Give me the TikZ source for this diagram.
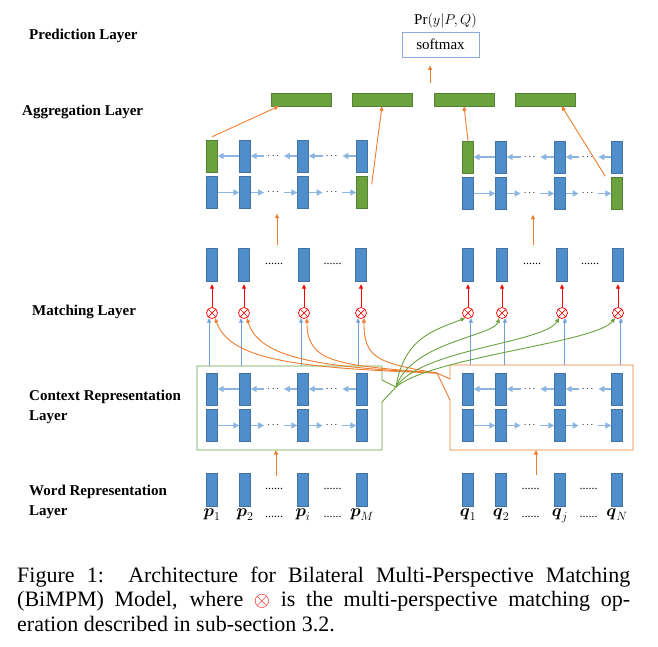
\documentclass[tikz,border=0pt]{standalone}
\usepackage{fontspec}
\setmainfont{Liberation Serif}
\usepackage{amsmath}
\usepackage{xcolor}
\usepackage{tikz}
\usetikzlibrary{positioning,calc,arrows.meta}

\definecolor{vecblue}{RGB}{80,141,203}
\definecolor{vecedge}{RGB}{66,114,166}
\definecolor{lstmblue}{RGB}{140,181,226}
\definecolor{linkblue}{RGB}{112,160,214}
\definecolor{agggreen}{RGB}{106,162,62}
\definecolor{ctxorange}{RGB}{237,125,49}
\definecolor{softblue}{RGB}{142,169,219}

\tikzset{
  vec/.style={rectangle, fill=vecblue, draw=vecedge, line width=0.4pt, minimum width=11pt, minimum height=33pt, inner sep=0pt},
  gvec/.style={vec, fill=agggreen, draw=agggreen!80!black},
  aggbar/.style={rectangle, fill=agggreen, draw=agggreen!80!black, line width=0.4pt, minimum width=60pt, minimum height=13pt, inner sep=0pt},
  mop/.style={circle, draw=red, line width=0.7pt, minimum size=11pt, inner sep=0pt,
    path picture={\draw[red, line width=0.7pt] (path picture bounding box.south west) -- (path picture bounding box.north east)
      (path picture bounding box.north west) -- (path picture bounding box.south east);}},
  lstm/.style={lstmblue, line width=1.8pt, -{Triangle[length=6pt,width=6pt]}},
  rowdots/.style={inner xsep=3pt, inner ysep=0pt, text=black!85!blue, font=\fontsize{10}{10}\selectfont\bfseries},
  wdots/.style={anchor=base, inner sep=1pt, font=\fontsize{12}{12}\selectfont},
  redarr/.style={red, line width=0.9pt, -{Triangle[length=4.5pt,width=4pt]}, shorten >=3pt},
  linkarr/.style={linkblue, line width=0.9pt, -{Triangle[length=4.5pt,width=4pt]}},
  orarr/.style={ctxorange, line width=0.9pt, -{Triangle[length=4.5pt,width=4pt]}},
  grarr/.style={agggreen, line width=0.9pt, -{Triangle[length=4.5pt,width=4pt]}},
  layername/.style={anchor=west, align=left, inner sep=0pt, font=\fontsize{15}{20}\selectfont\bfseries},
  wlabel/.style={inner sep=0pt, font=\fontsize{17}{17}\selectfont}
}

\begin{document}
\begin{tikzpicture}[x=1pt,y=-1pt]
\useasboundingbox (0,0) rectangle (658,646);

% Layer names
\node[layername] (lpred) at (29,36) {Prediction Layer};
\node[layername] (lagg) at (22,112) {Aggregation Layer};
\node[layername] (lmatch) at (32,312) {Matching Layer};
\node[layername] (lctx) at (29,407) {Context Representation\\Layer};
\node[layername] (lword) at (29,502) {Word Representation\\Layer};

% Prediction layer
\node[draw=softblue, line width=0.8pt, minimum width=77pt, minimum height=25pt, inner sep=0pt, font=\fontsize{15}{15}\selectfont] (soft) at (440.5,44.5) {softmax};
\node[above=3pt of soft, xshift=5pt, inner sep=0pt, font=\fontsize{15}{15}\selectfont] (prob) {$\Pr(y|P,Q)$};

% Aggregation layer
\foreach \i/\x in {1/301,2/382,3/464,4/545.5} \node[aggbar] (ag\i) at (\x,99.5) {};
\coordinate (pin) at (430,83);
\draw[orarr, shorten >=8pt] (pin) -- (pin |- soft.south);

% BiLSTM rows (context and aggregation)
\foreach \g/\ya/\yb/\xa/\xb/\xc/\xd in {cl/389/425.5/212/245/303/362, cr/389/425.5/468/501/560/617,
    al/156/192.5/212/245/303/362, ar/157/193.5/468/501/560/617} {
  \foreach \i/\x in {1/\xa,2/\xb,3/\xc,4/\xd} {
    \node[vec, minimum height=32pt] (\g t\i) at (\x,\ya) {};
    \node[vec, minimum height=32pt] (\g b\i) at (\x,\yb) {};
  }
  \draw[lstm] (\g t2) -- (\g t1);
  \draw[lstm] (\g b1) -- (\g b2);
  \foreach \a/\b in {2/3,3/4} {
    \node[rowdots] (\g td\a) at ($(\g t\a)!0.5!(\g t\b)$) {$\cdots$};
    \node[rowdots] (\g bd\a) at ($(\g b\a)!0.5!(\g b\b)$) {$\cdots$};
    \draw[lstm] (\g t\b) -- (\g td\a);
    \draw[lstm] (\g td\a) -- (\g t\a);
    \draw[lstm] (\g b\a) -- (\g bd\a);
    \draw[lstm] (\g bd\a) -- (\g b\b);
  }
}
\node[gvec, minimum height=32pt] (alt1) at (alt1) {};
\node[gvec, minimum height=32pt] (alb4) at (alb4) {};
\node[gvec, minimum height=32pt] (art1) at (art1) {};
\node[gvec, minimum height=32pt] (arb4) at (arb4) {};

\draw[orarr] ([yshift=3pt]alt1.north) -- ([xshift=8pt]ag1.south west);
\draw[orarr] ([xshift=4pt,yshift=-8pt]alb4.north east) -- (ag2.south);
\draw[orarr] (art1.north) -- (ag3.south);
\draw[orarr] ([xshift=-6pt,yshift=1pt]arb4.north west) -- ([xshift=-14pt]ag4.south east);

% Matching layer
\foreach \i/\x in {1/212,2/244,3/304,4/361} {
  \node[mop] (mp\i) at (\x,313) {};
  \node[vec] (vp\i) at (\x,264.5) {};
  \draw[redarr] (mp\i) -- (vp\i);
}
\foreach \i/\x in {1/468,2/502,3/562,4/618} {
  \node[mop] (mq\i) at (\x,313) {};
  \node[vec] (vq\i) at (\x,264.5) {};
  \draw[redarr] (mq\i) -- (vq\i);
}
\foreach \a/\b in {2/3,3/4} {
  \node[wdots] (vpd\a) at ($(vp\a)!0.5!(vp\b)$) {......};
  \node[wdots] (vqd\a) at ($(vq\a)!0.5!(vq\b)$) {......};
}
\coordinate (laggin) at (277,245);
\coordinate (raggin) at (533,245);
\draw[orarr, shorten >=5pt] (laggin) -- (laggin |- alb1.south);
\draw[orarr, shorten >=5pt] (raggin) -- (raggin |- arb1.south);

% Context boxes
\coordinate (ltop) at (197,366);
\coordinate (lbot) at (197,450);
\coordinate (rtop) at (450,365);
\coordinate (rbot) at (450,450);
\coordinate (gtip) at (396,387);
\coordinate (otip) at (437,373);
\draw[agggreen, line width=0.9pt] (ltop) -- (382,366) -- (382,380) -- (gtip) -- (382,402) -- (382,450) -- (lbot) -- cycle;
\draw[ctxorange, line width=0.9pt] (rtop) -- (633,365) -- (633,450) -- (rbot) -- (450,400) -- (otip) -- (450,379) -- cycle;

\foreach \i in {1,...,4} {
  \draw[linkarr] (mp\i.240 |- ltop) -- (mp\i.240);
  \draw[linkarr] (mq\i.-60 |- rtop) -- (mq\i.-60);
}

% Cross matching
\draw[orarr] (otip) .. controls +(-150,-5) and +(15,40) .. (mp1.-60);
\draw[orarr] (otip) .. controls +(-120,-6) and +(12,40) .. (mp2.-60);
\draw[orarr] (otip) .. controls +(-100,-8) and +(0,45) .. (mp3.-60);
\draw[orarr] (otip) .. controls +(-60,-10) and +(0,40) .. (mp4.-60);
\draw[grarr] (gtip) .. controls +(8,-50) and +(-30,12) .. (mq1.240);
\draw[grarr] (gtip) .. controls +(15,-45) and +(-5,18) .. (mq2.240);
\draw[grarr] (gtip) .. controls +(25,-38) and +(-15,25) .. (mq3.240);
\draw[grarr] (gtip) .. controls +(35,-30) and +(-20,25) .. (mq4.240);

% Word representation layer
\foreach \i/\x/\t in {1/212/1,2/245/2,3/303/i,4/362/M} {
  \node[vec] (wp\i) at (\x,489.5) {};
  \node[wlabel, below=2pt of wp\i] (lp\i) {$\boldsymbol{p}_{\t}$};
}
\foreach \i/\x/\t in {1/468/1,2/501/2,3/560/j,4/617/N} {
  \node[vec] (wq\i) at (\x,489.5) {};
  \node[wlabel, below=2pt of wq\i] (lq\i) {$\boldsymbol{q}_{\t}$};
}
\foreach \a/\b in {2/3,3/4} {
  \node[wdots] (wpd\a) at ($(wp\a)!0.5!(wp\b)$) {......};
  \node[wdots] (wqd\a) at ($(wq\a)!0.5!(wq\b)$) {......};
  \node[wdots] (lpd\a) at ($(wp\a)!0.5!(wp\b) + (0,28)$) {......};
  \node[wdots] (lqd\a) at ($(wq\a)!0.5!(wq\b) + (0,28)$) {......};
}
\coordinate (lctxin) at (276,476);
\coordinate (rctxin) at (536,475);
\draw[orarr] (lctxin) -- (lctxin |- lbot);
\draw[orarr] (rctxin) -- (rctxin |- rbot);

% Caption
\node[anchor=base west, text width=613pt, align=justify, inner sep=0pt, font=\fontsize{22}{24.5}\selectfont] (cap) at (17,582)
  {Figure 1:\ \ Architecture for Bilateral Multi-Perspective Matching\linebreak (BiMPM) Model, where \textcolor{red}{$\otimes$} is the multi-perspective matching op-\linebreak eration described in sub-section 3.2.};
\end{tikzpicture}
\end{document}
